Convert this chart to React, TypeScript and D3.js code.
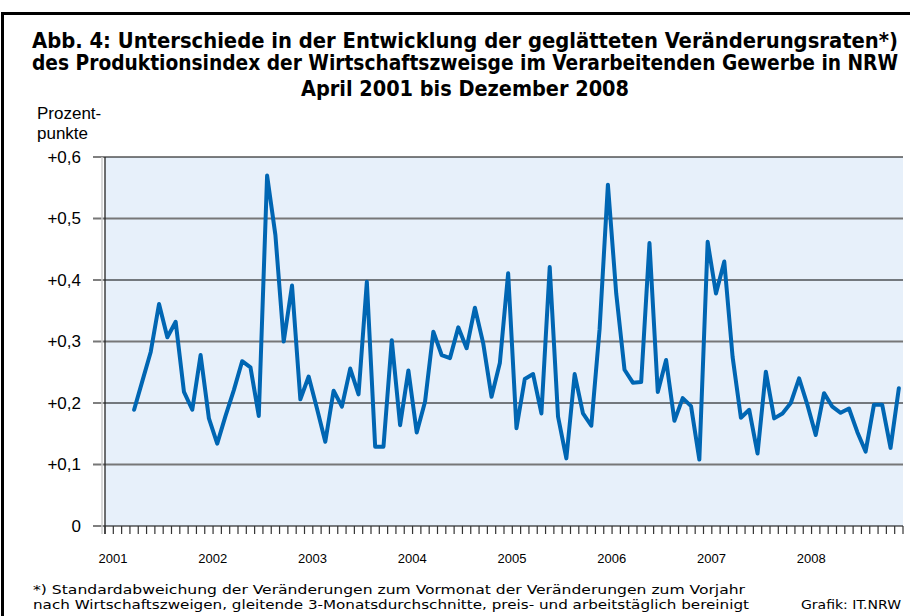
import React from "react";
import * as d3 from "d3";

const years = ["2001", "2002", "2003", "2004", "2005", "2006", "2007", "2008"];
const startMonthIndex = 3; // April 2001
const values = [
  // 2001 Apr-Dec
  0.189, 0.236, 0.283, 0.361, 0.307, 0.332, 0.218, 0.189, 0.278,
  // 2002
  0.175, 0.134, 0.179, 0.221, 0.268, 0.258, 0.179, 0.570, 0.473, 0.300, 0.391, 0.206,
  // 2003
  0.243, 0.191, 0.137, 0.220, 0.194, 0.256, 0.214, 0.397, 0.129, 0.129, 0.302, 0.164,
  // 2004
  0.253, 0.152, 0.202, 0.316, 0.278, 0.273, 0.323, 0.289, 0.355, 0.297, 0.210, 0.265,
  // 2005
  0.411, 0.159, 0.239, 0.247, 0.183, 0.421, 0.178, 0.110, 0.247, 0.183, 0.163, 0.320,
  // 2006
  0.555, 0.378, 0.254, 0.233, 0.234, 0.460, 0.218, 0.270, 0.171, 0.208, 0.195, 0.108,
  // 2007
  0.462, 0.378, 0.430, 0.275, 0.176, 0.189, 0.118, 0.251, 0.175, 0.183, 0.200, 0.240,
  // 2008
  0.197, 0.148, 0.216, 0.194, 0.184, 0.191, 0.153, 0.121, 0.197, 0.197, 0.127, 0.224,
];
const yTicks = [0, 0.1, 0.2, 0.3, 0.4, 0.5, 0.6];
const yTickLabels = ["0", "+0,1", "+0,2", "+0,3", "+0,4", "+0,5", "+0,6"];
const titleLines = [
  "Abb. 4: Unterschiede in der Entwicklung der geglätteten Veränderungsraten*)",
  "des Produktionsindex der Wirtschaftszweisge im Verarbeitenden Gewerbe in NRW",
  "April 2001 bis Dezember 2008",
];
const footnoteLines = [
  "*)  Standardabweichung der Veränderungen zum Vormonat der Veränderungen zum Vorjahr",
  "nach Wirtschaftszweigen, gleitende 3-Monatsdurchschnitte, preis- und arbeitstäglich bereinigt",
];
const source = "Grafik: IT.NRW";

export default function App() {
  const W = 910, H = 616;
  const left = 105, right = 903, top = 157, bottom = 526;
  const nMonths = years.length * 12;
  const x = d3.scaleLinear().domain([0, nMonths]).range([left, right]);
  const y = d3.scaleLinear().domain([0, 0.6]).range([bottom, top]);
  const pts = values.map((v, i) => [x(startMonthIndex + i + 0.5), y(v)] as [number, number]);
  const line = d3.line().curve(d3.curveLinear)(pts) || "";
  const condensed = "'DejaVu Sans Condensed', 'Liberation Sans Narrow', 'Liberation Sans', Arial, sans-serif";
  const sans = "'Liberation Sans', Arial, sans-serif";
  const titleWidths = [866, 866, 328];
  const titleY = [48, 70, 96];

  return (
    <svg width={W} height={H} style={{ position: "absolute", left: 0, top: 0, background: "#fff" }}>
      {/* frame */}
      <line x1={2.5} x2={2.5} y1={12} y2={H} stroke="#000" strokeWidth={3} />
      <line x1={1} x2={W} y1={13.5} y2={13.5} stroke="#000" strokeWidth={3} />
      {/* title */}
      {titleLines.map((t, i) => (
        <text key={i} x={465} y={titleY[i]} textAnchor="middle" fontFamily={condensed} fontWeight="bold"
          fontSize={21} textLength={titleWidths[i]} lengthAdjust="spacingAndGlyphs" fill="#000">{t}</text>
      ))}
      {/* y axis title */}
      <text x={37} y={119} fontFamily={sans} fontSize={17} fill="#000">Prozent-</text>
      <text x={37} y={139} fontFamily={sans} fontSize={17} fill="#000">punkte</text>
      {/* plot background */}
      <rect x={left} y={top} width={right - left} height={bottom - top} fill="#E7F0FA" />
      {/* grid lines */}
      {yTicks.map((t, i) => (
        <line key={"g" + i} x1={left - 12} x2={right} y1={y(t)} y2={y(t)}
          stroke={i % 2 === 1 ? "#777" : "#000"} strokeWidth={i % 2 === 1 ? 1.8 : 1.2} />
      ))}
      {/* y axis */}
      <line x1={left - 3} x2={left - 3} y1={top} y2={bottom + 8} stroke="#ccc" strokeWidth={1.5} />
      <line x1={left} x2={left} y1={top} y2={bottom + 8} stroke="#222" strokeWidth={1.3} />
      {yTicks.map((t, i) => (
        <text key={"yl" + i} x={81} y={y(t)} dy="0.35em" textAnchor="end" fontFamily={sans} fontSize={17} fill="#000">{yTickLabels[i]}</text>
      ))}
      {/* month ticks */}
      {d3.range(nMonths + 1).map((m) => (
        <line key={"t" + m} x1={x(m)} x2={x(m)} y1={bottom} y2={bottom + 8} stroke="#333" strokeWidth={1.2} />
      ))}
      {years.map((yr, i) => (
        <text key={"yr" + yr} x={x(i * 12) + 8} y={563} textAnchor="middle" fontFamily={sans} fontSize={13} fill="#000">{yr}</text>
      ))}
      {/* data line */}
      <path d={line} fill="none" stroke="#0066B3" strokeWidth={4} strokeLinejoin="round" strokeLinecap="round" />
      {/* footnote */}
      <text x={33} y={594} fontFamily={condensed} fontSize={13} textLength={712} lengthAdjust="spacingAndGlyphs" fill="#000">{footnoteLines[0]}</text>
      <text x={33} y={609} fontFamily={condensed} fontSize={13} textLength={716} lengthAdjust="spacingAndGlyphs" fill="#000">{footnoteLines[1]}</text>
      <text x={901} y={609} textAnchor="end" fontFamily={condensed} fontSize={13} textLength={100} lengthAdjust="spacingAndGlyphs" fill="#000">{source}</text>
    </svg>
  );
}
